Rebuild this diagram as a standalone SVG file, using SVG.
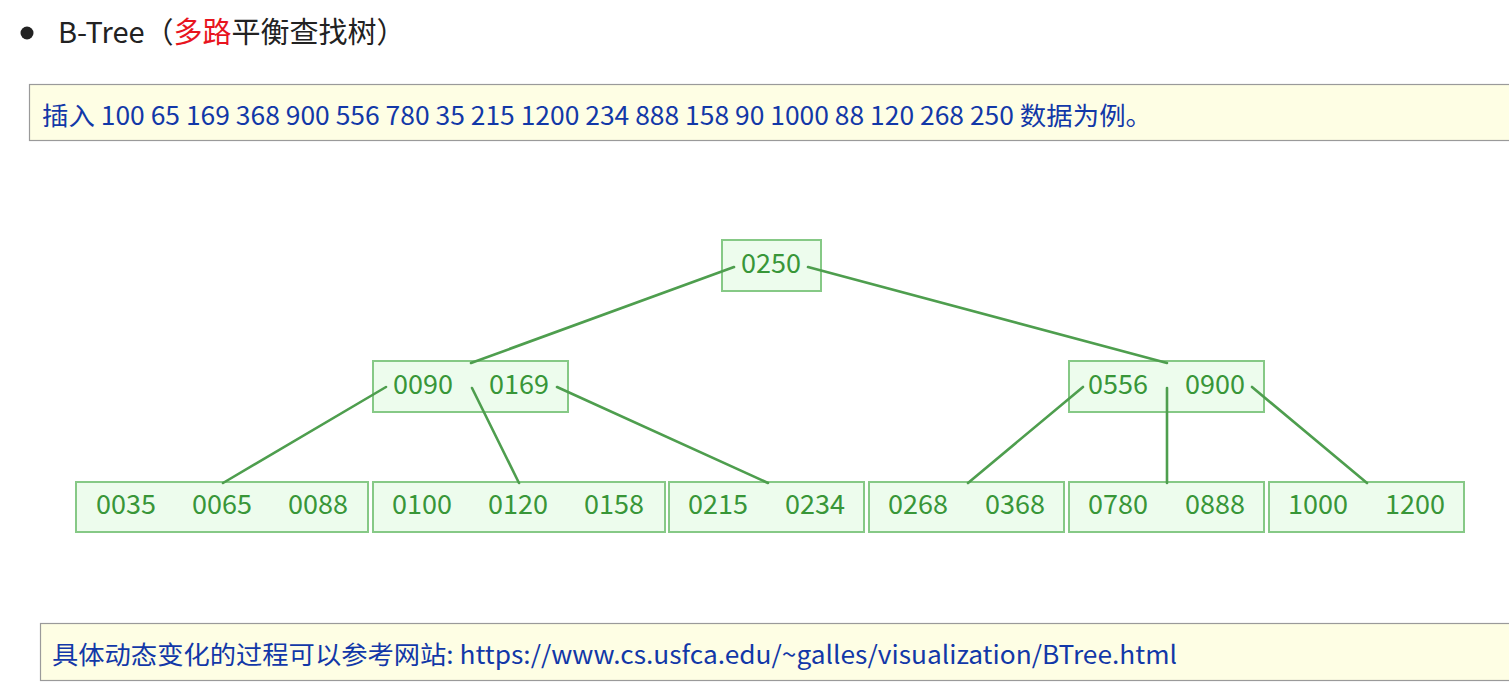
<svg xmlns="http://www.w3.org/2000/svg" width="1509" height="687" viewBox="0 0 1509 687">
<style>
.cjk{font-family:"Noto Sans CJK SC","Noto Sans",sans-serif}
.note{fill:#fefee4;stroke:#9a9a9a;stroke-width:1.2}
.nt{fill:#1238a8;font-size:25px}
.box{fill:#edfced;stroke:#86c986;stroke-width:2}
.k{fill:#389638;font-size:27px;text-anchor:middle;font-family:"Noto Sans CJK SC","Noto Sans",sans-serif}
.edge{stroke:#4e9e4e;stroke-width:2.6;fill:none;stroke-linecap:round}
</style>
<rect width="1509" height="687" fill="#ffffff"/>
<g id="title">
<circle cx="27" cy="33" r="6.5" fill="#222"/>
<text class="cjk" x="58" y="43" font-size="29" fill="#222">B-Tree（<tspan fill="#e8141e">多路</tspan>平衡查找树）</text>
</g>
<g id="note-insert">
<rect class="note" x="29.5" y="84.5" width="1490" height="56"/>
<text class="cjk nt" x="42" y="125" textLength="1110" lengthAdjust="spacingAndGlyphs">插入 100 65 169 368 900 556 780 35 215 1200 234 888 158 90 1000 88 120 268 250 数据为例。</text>
</g>
<g id="node-root">
<rect class="box" x="722" y="240" width="99" height="51"/>
<text class="k" x="771" y="273">0250</text>
</g>
<g id="node-mid-left">
<rect class="box" x="373" y="361" width="195" height="51"/>
<text class="k" x="423" y="394">0090</text>
<text class="k" x="519" y="394">0169</text>
</g>
<g id="node-mid-right">
<rect class="box" x="1069" y="361" width="195" height="51"/>
<text class="k" x="1118" y="394">0556</text>
<text class="k" x="1215" y="394">0900</text>
</g>
<g id="leaf-1">
<rect class="box" x="76" y="482" width="292" height="50"/>
<text class="k" x="126" y="514">0035</text>
<text class="k" x="222" y="514">0065</text>
<text class="k" x="318" y="514">0088</text>
</g>
<g id="leaf-2">
<rect class="box" x="373" y="482" width="292" height="50"/>
<text class="k" x="422" y="514">0100</text>
<text class="k" x="518" y="514">0120</text>
<text class="k" x="614" y="514">0158</text>
</g>
<g id="leaf-3">
<rect class="box" x="669" y="482" width="195" height="50"/>
<text class="k" x="718" y="514">0215</text>
<text class="k" x="815" y="514">0234</text>
</g>
<g id="leaf-4">
<rect class="box" x="869" y="482" width="195" height="50"/>
<text class="k" x="918" y="514">0268</text>
<text class="k" x="1015" y="514">0368</text>
</g>
<g id="leaf-5">
<rect class="box" x="1069" y="482" width="195" height="50"/>
<text class="k" x="1118" y="514">0780</text>
<text class="k" x="1215" y="514">0888</text>
</g>
<g id="leaf-6">
<rect class="box" x="1269" y="482" width="195" height="50"/>
<text class="k" x="1318" y="514">1000</text>
<text class="k" x="1415" y="514">1200</text>
</g>
<g id="connectors">
<line class="edge" x1="734" y1="267" x2="471" y2="363"/>
<line class="edge" x1="808" y1="267" x2="1167" y2="363"/>
<line class="edge" x1="386" y1="387" x2="223" y2="483"/>
<line class="edge" x1="472" y1="388" x2="519" y2="483"/>
<line class="edge" x1="557" y1="387" x2="768" y2="483"/>
<line class="edge" x1="1083" y1="387" x2="968" y2="483"/>
<line class="edge" x1="1167" y1="388" x2="1167" y2="483"/>
<line class="edge" x1="1252" y1="387" x2="1367" y2="483"/>
</g>
<g id="note-link">
<rect class="note" x="40.5" y="623.5" width="1480" height="57"/>
<text class="cjk nt" x="52" y="664" textLength="1125" lengthAdjust="spacingAndGlyphs">具体动态变化的过程可以参考网站: https://www.cs.usfca.edu/~galles/visualization/BTree.html</text>
</g>
</svg>
